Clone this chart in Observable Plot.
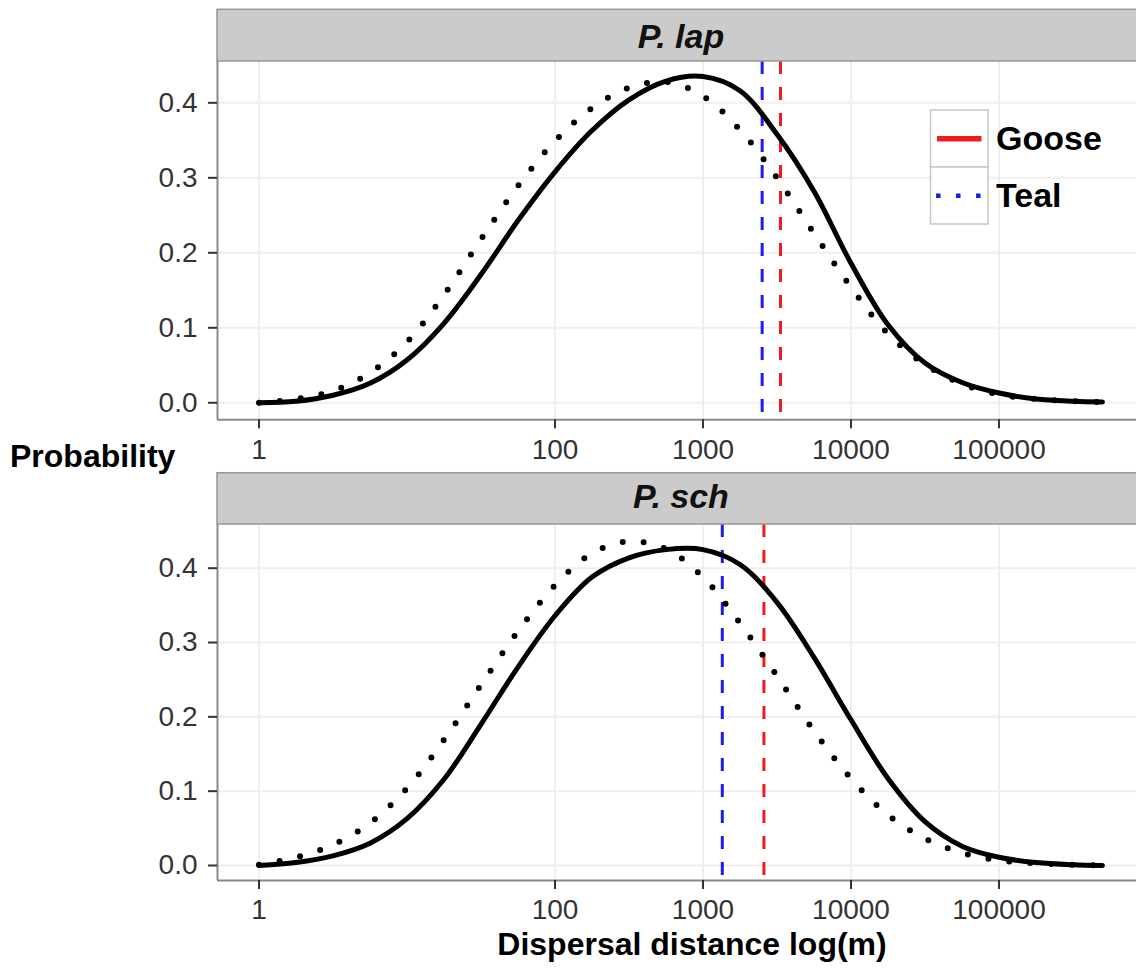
<!DOCTYPE html>
<html><head><meta charset="utf-8">
<script src="https://cdn.jsdelivr.net/npm/d3@7"></script>
<script src="https://cdn.jsdelivr.net/npm/@observablehq/plot@0.6"></script>
<style>
html,body{margin:0;padding:0;background:#fff;}
#chart{position:relative;width:1136px;height:969px;overflow:hidden;background:#fff;font-family:"Liberation Sans",Arial,Helvetica,sans-serif;}
#chart > svg{position:absolute;left:0;margin:0;}
</style></head><body><div id="chart"></div>
<script>
// Dispersal distance (m), shared grid of the curves
const distance = [1, 1.778, 3.162, 5.623, 10, 17.78, 31.62, 56.23, 100, 177.8, 316.2, 562.3, 1000, 1778, 3162, 5623, 10000, 17783, 31623, 56234, 100000, 177828, 316228, 500000];
// P. lap
const lapGoose = [0.000,0.002,0.010,0.026,0.057,0.106,0.171,0.243,0.308,0.363,0.404,0.429,0.435,0.416,0.358,0.282,0.186,0.104,0.053,0.027,0.013,0.005,0.002,0.001];
const lapTeal  = [0.000,0.005,0.016,0.040,0.081,0.144,0.218,0.289,0.349,0.393,0.420,0.428,0.409,0.364,0.300,0.226,0.154,0.092,0.051,0.025,0.011,0.005,0.002,0.001];
// P. sch
const schGoose = [0.000,0.004,0.013,0.030,0.063,0.116,0.190,0.267,0.336,0.388,0.414,0.425,0.425,0.405,0.354,0.280,0.196,0.117,0.059,0.026,0.011,0.004,0.001,0.000];
const schTeal  = [0.001,0.011,0.028,0.057,0.104,0.169,0.243,0.315,0.377,0.420,0.436,0.426,0.388,0.326,0.255,0.181,0.117,0.068,0.036,0.017,0.007,0.003,0.001,0.000];
// vertical markers (Goose, Teal)
const species = ["Goose", "Teal"];
const speciesColors = ["#ee1c1c", "#1c1cee"];
const lapMarkers = [3340, 2510];
const schMarkers = [2580, 1350];
const panelNames = ["P. lap", "P. sch"];
const xTicks = [1, 100, 1000, 10000, 100000];
const yTicks = [0, 0.1, 0.2, 0.3, 0.4];
const xLabel = "Dispersal distance log(m)";
const yLabel = "Probability";

const FONT = '"Liberation Sans", Arial, Helvetica, sans-serif';
const chart = document.getElementById("chart");
const xDomain = [10 ** -0.2804, 10 ** 5.929];

function panel(goose, teal, markers, yDomain, top, panelH) {
  const mB = 52;
  const gRows = distance.map((d, i) => ({d, v: goose[i]}));
  const tRows = distance.map((d, i) => ({d, v: teal[i]}));
  const gridStyle = {stroke: "#efefef", strokeOpacity: 1, strokeWidth: 2};
  const svg = Plot.plot({
    width: 1136, height: panelH + mB,
    marginTop: 0, marginRight: 0, marginBottom: mB, marginLeft: 217,
    style: {fontFamily: FONT, fontSize: "28px", color: "#333", background: "transparent", overflow: "visible"},
    x: {type: "log", domain: xDomain},
    y: {domain: yDomain},
    marks: [
      Plot.gridY(yTicks, gridStyle),
      Plot.gridX(xTicks, gridStyle),
      ...markers.map((m, i) => Plot.ruleX([m], {stroke: speciesColors[i], strokeWidth: 3, strokeDasharray: "13,13"})),
      Plot.line(gRows, {x: "d", y: "v", stroke: "black", strokeWidth: 5, curve: "catmull-rom"}),
      Plot.line(tRows, {x: "d", y: "v", stroke: "black", strokeWidth: 6, strokeDasharray: "0,21", strokeLinecap: "round", curve: "catmull-rom"}),
      Plot.ruleX([xDomain[0]], {stroke: "#8a8a8a", strokeWidth: 2}),
      Plot.ruleY([yDomain[0]], {stroke: "#8a8a8a", strokeWidth: 2}),
      Plot.axisX(xTicks, {tickFormat: d => String(d), tickSize: 9, tickPadding: 10, strokeWidth: 2, label: null}),
      Plot.axisY(yTicks, {tickFormat: d3.format(".1f"), tickSize: 9, tickPadding: 11, strokeWidth: 2, label: null})
    ]
  });
  svg.style.top = top + "px";
  chart.appendChild(svg);
}

panel(lapGoose, lapTeal, lapMarkers, [-0.0227, 0.4551], 61, 358.3);
panel(schGoose, schTeal, schMarkers, [-0.0202, 0.4588], 524, 356);

// overlay: strips, axis titles, legend
const ov = d3.select(chart).append("svg").attr("width", 1136).attr("height", 969)
  .style("top", "0px").style("font-family", FONT);
const strips = [{y: 9.3, h: 51.7, ty: 48.3}, {y: 472.7, h: 51.3, ty: 508.3}];
strips.forEach((s, i) => {
  ov.append("rect").attr("x", 217).attr("y", s.y).attr("width", 960).attr("height", s.h)
    .attr("fill", "#cbcbcb").attr("stroke", "#969696").attr("stroke-width", 1.5);
  ov.append("text").attr("x", 681).attr("y", s.ty).attr("text-anchor", "middle")
    .attr("font-size", 34).attr("font-weight", "bold").attr("font-style", "italic")
    .attr("fill", "#111").text(panelNames[i]);
});
ov.append("text").attr("x", 10).attr("y", 466.7).attr("font-size", 32).attr("font-weight", "bold")
  .attr("fill", "#000").text(yLabel);
ov.append("text").attr("x", 692).attr("y", 955).attr("text-anchor", "middle").attr("font-size", 32)
  .attr("font-weight", "bold").attr("fill", "#000").text(xLabel);

// legend
const lg = ov.append("g");
species.forEach((sp, i) => {
  const y0 = 110 + i * 57;
  lg.append("rect").attr("x", 930.5).attr("y", y0).attr("width", 57.5).attr("height", 57)
    .attr("fill", "#fff").attr("stroke", "#c6c6c6").attr("stroke-width", 1.5);
  const ln = lg.append("line").attr("x1", 937).attr("x2", 981.5).attr("y1", y0 + 28.7).attr("y2", y0 + 28.7)
    .attr("stroke", speciesColors[i]);
  if (i === 0) ln.attr("stroke-width", 5.5);
  else ln.attr("x1", 938.3).attr("stroke-width", 4.5).attr("stroke-dasharray", "0,20").attr("stroke-linecap", "square");
  lg.append("text").attr("x", 996).attr("y", y0 + 40.3).attr("font-size", 34).attr("font-weight", "bold")
    .attr("fill", "#000").text(sp);
});
</script></body></html>
